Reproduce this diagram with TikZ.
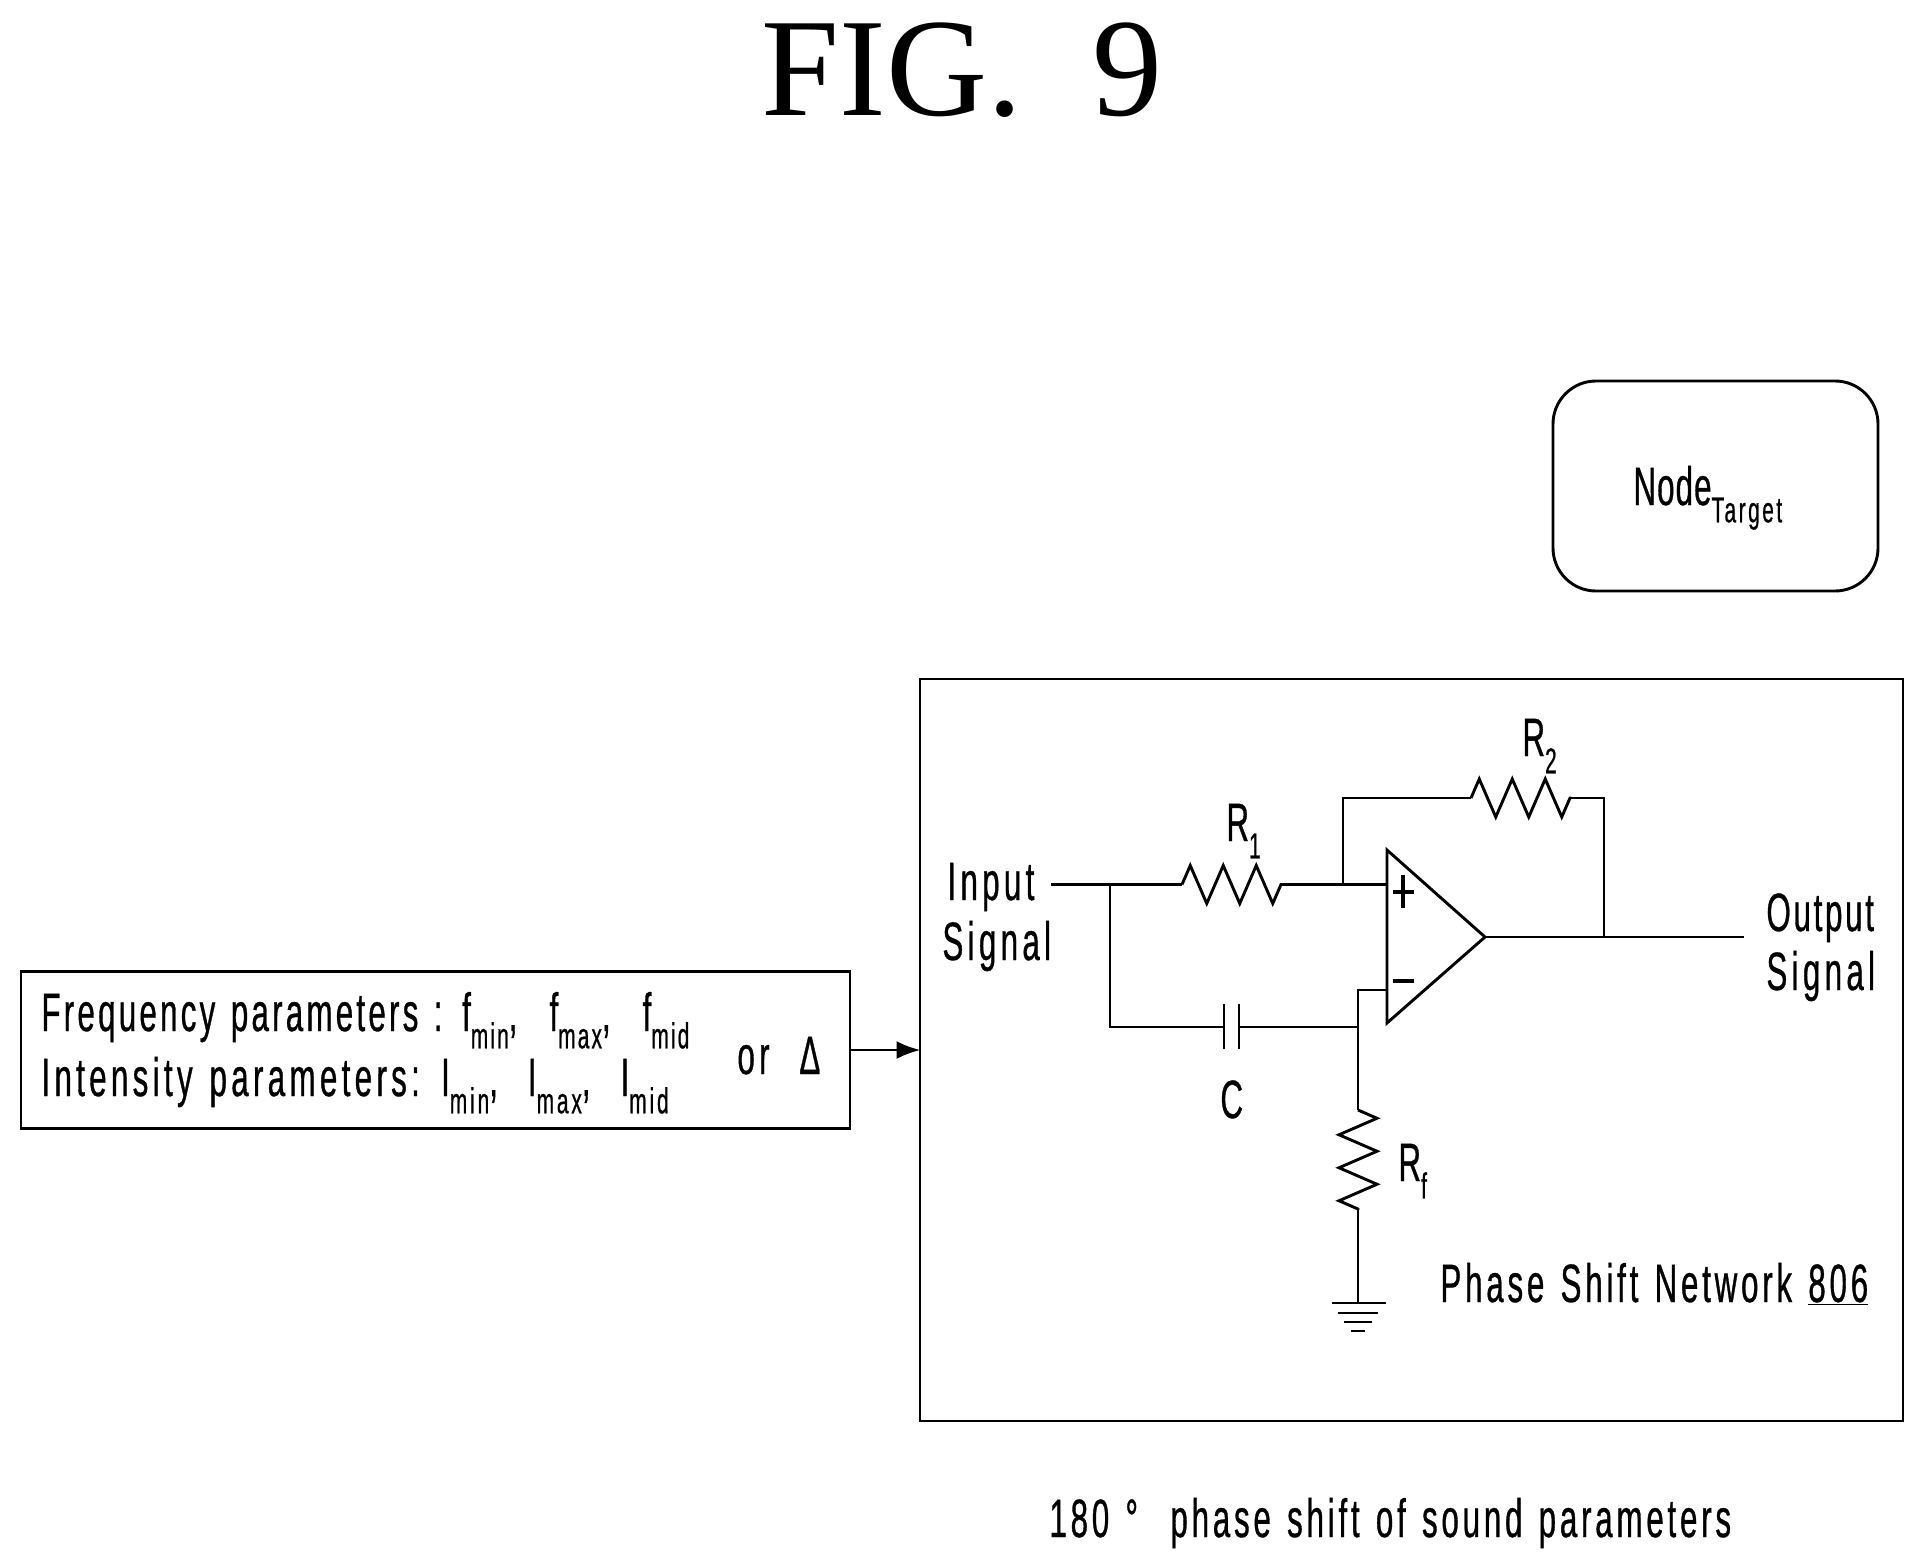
\documentclass[tikz,border=0pt]{standalone}
\usepackage{fontspec}
\setmainfont[FakeStretch=0.58,LetterSpace=8,FakeBold=0.6,WordSpace=1.3]{Liberation Sans}
\newfontfamily\figfont{Liberation Serif}
\usetikzlibrary{arrows.meta,decorations.pathmorphing}
\newcommand{\low}[1]{\raisebox{-.32em}{\fontsize{36}{36}\selectfont #1}}
\newcommand{\spc}[1]{\addfontfeature{LetterSpace=#1}}
\tikzset{
  lbl/.style={inner sep=0pt, anchor=base west, font=\fontsize{54}{54}\selectfont},
  wire/.style={line width=2.9pt, line join=miter},
  res/.style={decoration={zigzag, segment length=33pt, amplitude=19pt}, decorate}
}

\begin{document}
\begin{tikzpicture}[x=1pt, y=-1pt, wire]
\useasboundingbox (0,0) rectangle (1923,1564);

%%% title %%%
\node[inner sep=0pt, font=\fontsize{140}{140}\figfont] (title) at (962,70) {FIG.~~9};

%%% boxes %%%
\node[draw, rounded corners=43pt, minimum width=325pt, minimum height=210pt] (target) at (1715.5,486) {};
\node[lbl] (nodetext) at (1632,505) {\spc{2}Node\low{\fontsize{36}{36}\selectfont \spc{7}Target}};

\node[draw, minimum width=829pt, minimum height=157pt] (params) at (435.5,1050) {};
\node[draw, minimum width=983pt, minimum height=742pt] (network) at (1411.5,1050) {};
\draw[-{Latex[length=24pt,width=18pt]}, shorten >=-2pt] (params.east) -- (network.west |- params.east);

\node[lbl] (freq) at (40,1031) {\spc{6}Frequency parameters : f\low{min},\hspace{32pt}f\low{max},\hspace{32pt}f\low{mid}};
\node[lbl] (inten) at (40,1096) {Intensity parameters: I\low{min},\hspace{30pt}I\low{max},\hspace{30pt}I\low{mid}};
\node[lbl] (orword) at (736,1074) {or};
\node[lbl] (delta) at (798,1074) {Δ};

%%% circuit %%%
\coordinate (in) at (1051,884.5);
\coordinate (split) at (1110,884.5);
\coordinate (rone1) at (1182,884.5);
\coordinate (rone2) at (1282,884.5);
\coordinate (plusjoin) at (1343,884.5);
\coordinate (plus) at (1387,884.5);
\coordinate (amptop) at (1387,850);
\coordinate (ampbot) at (1387,1023);
\coordinate (amptip) at (1485,937);
\coordinate (fbjoin) at (1604,937);
\coordinate (out) at (1744,937);
\coordinate (rtwo1) at (1471,798);
\coordinate (rtwo2) at (1571,798);
\coordinate (minus) at (1387,990);
\coordinate (minusjoin) at (1358,990);
\coordinate (capjoin) at (1358,1027);
\coordinate (plate1) at (1224,1027);
\coordinate (plate2) at (1239,1027);
\coordinate (rf1) at (1358,1110);
\coordinate (rf2) at (1358,1210);
\coordinate (gnd) at (1358,1303);

\draw (amptop) -- (ampbot) -- (amptip) -- cycle;
\draw (in) -- (rone1);
\draw[res] (rone1) -- (rone2);
\draw (rone2) -- (plus);
\draw (plusjoin) |- (rtwo1);
\draw[res] (rtwo1) -- (rtwo2);
\draw (rtwo2) -| (fbjoin);
\draw (amptip) -- (out);
\draw (split) |- (plate1);
\draw (plate1 |- 0,1004) -- (plate1 |- 0,1049);
\draw (plate2 |- 0,1004) -- (plate2 |- 0,1049);
\draw (plate2) -- (capjoin);
\draw (minus) -- (minusjoin) -- (rf1);
\draw[res] (rf1) -- (rf2);
\draw (rf2) -- (gnd);

% ground
\draw ([xshift=-26pt]gnd) -- ([xshift=28pt]gnd);
\draw ([xshift=-20pt,yshift=-10pt]gnd) -- ([xshift=20pt,yshift=-10pt]gnd);
\draw ([xshift=-14pt,yshift=-19pt]gnd) -- ([xshift=14pt,yshift=-19pt]gnd);
\draw ([xshift=-7pt,yshift=-28pt]gnd) -- ([xshift=7pt,yshift=-28pt]gnd);

% plus and minus
\draw[line width=3.6pt] (1403,875) -- (1403,908);
\draw[line width=3.6pt] (1393,892) -- (1414,892);
\draw[line width=3.6pt] (1393,981) -- (1414,981);

%%% labels %%%
\node[lbl] (input) at (946,900) {Input};
\node[lbl] (signalin) at (941,960) {Signal};
\node[lbl] (output) at (1765,931) {\spc{5}Output};
\node[lbl] (signalout) at (1765,990) {Signal};
\node[lbl] (rone) at (1225,841) {R\low{1}};
\node[lbl] (rtwo) at (1521,756) {R\low{2}};
\node[lbl] (cap) at (1219,1118) {C};
\node[lbl] (rf) at (1397,1181) {R\low{f}};
\node[lbl] (netname) at (1439,1302) {\spc{7}Phase Shift Network \underline{806}};
\node[lbl] (shift) at (1048,1537) {\spc{7}180 °~~phase shift of sound parameters};

\end{tikzpicture}
\end{document}
